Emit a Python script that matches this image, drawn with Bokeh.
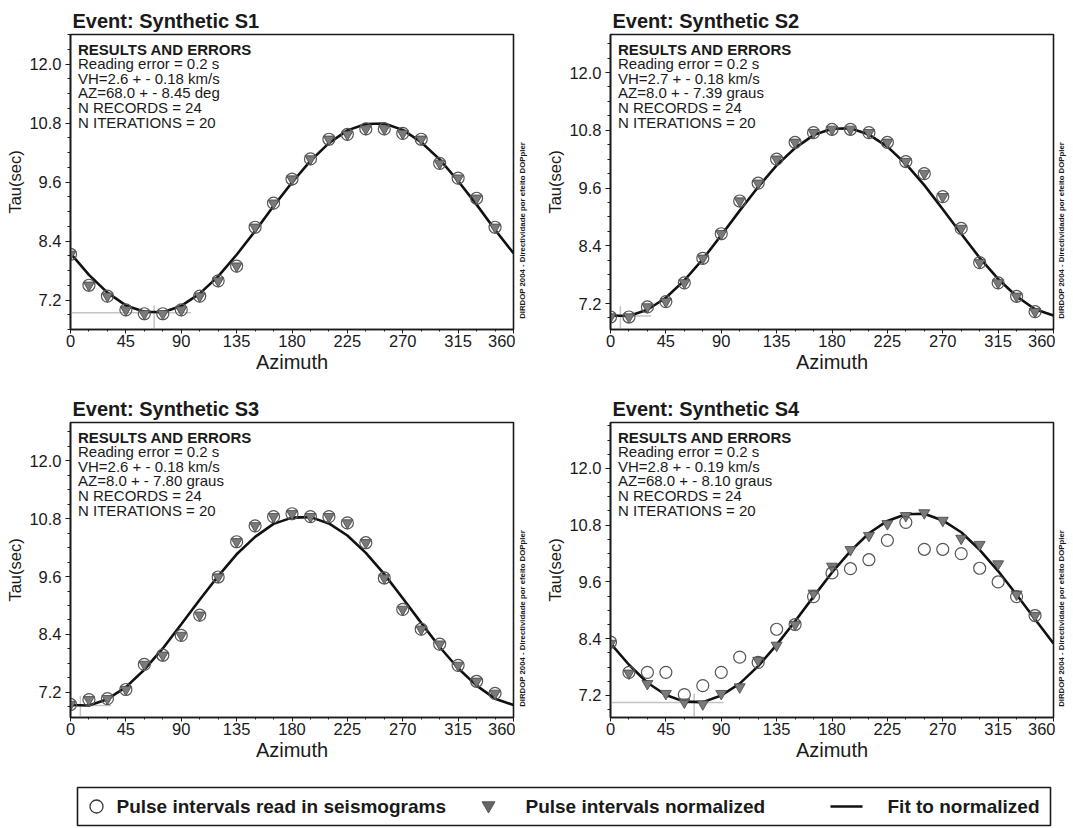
import math
from bokeh.plotting import figure
from bokeh.models import Range1d, FixedTicker, PrintfTickFormatter
from bokeh.layouts import column, row
from bokeh.embed import file_html
from bokeh.resources import INLINE
from bokeh.core.properties import value

FONT = "Liberation Sans"

# ---------------- data ----------------
azimuth = [0, 15, 30, 45, 60, 75, 90, 105, 120, 135, 150, 165,
           180, 195, 210, 225, 240, 255, 270, 285, 300, 315, 330, 345]
fit_azimuth = [0, 15, 30, 45, 60, 75, 90, 105, 120, 135, 150, 165,
               180, 195, 210, 225, 240, 255, 270, 285, 300, 315, 330, 345, 360]

x_ticks = [0, 45, 90, 135, 180, 225, 270, 315, 360]
x_minor = [15, 30, 60, 75, 105, 120, 150, 165, 195, 210, 240, 255, 285, 300, 330, 345]
y_ticks = [7.2, 8.4, 9.6, 10.8, 12.0]
y_minor = [6.6, 6.9, 7.5, 7.8, 8.1, 8.7, 9.0, 9.3, 9.9, 10.2, 10.5, 11.1, 11.4, 11.7, 12.3, 12.6, 12.9]

titles = ["Event: Synthetic S1", "Event: Synthetic S2", "Event: Synthetic S3", "Event: Synthetic S4"]
info_head = "RESULTS AND ERRORS"
reading_error = "Reading error = 0.2 s"
vh_text = ["VH=2.6 + - 0.18 km/s", "VH=2.7 + - 0.18 km/s", "VH=2.6 + - 0.18 km/s", "VH=2.8 + - 0.19 km/s"]
az_text = ["AZ=68.0 + - 8.45 deg", "AZ=8.0 + - 7.39 graus", "AZ=8.0 + - 7.80 graus", "AZ=68.0 + - 8.10 graus"]
records_text = "N RECORDS = 24"
iter_text = "N ITERATIONS = 20"
side_text = "DIRDOP 2004 - Directividade por efeito DOPpler"

# S1 (read and normalized coincide)
s1_read = [8.13, 7.50, 7.28, 7.00, 6.92, 6.92, 7.00, 7.28, 7.59, 7.89, 8.68, 9.17,
           9.66, 10.07, 10.47, 10.57, 10.68, 10.68, 10.59, 10.47, 9.98, 9.68, 9.27, 8.68]
s1_norm = [8.13, 7.50, 7.28, 7.00, 6.92, 6.92, 7.00, 7.28, 7.59, 7.89, 8.68, 9.17,
           9.66, 10.07, 10.47, 10.57, 10.68, 10.68, 10.59, 10.47, 9.98, 9.68, 9.27, 8.68]
s1_fit = [8.15, 7.71, 7.35, 7.09, 6.96, 6.95, 7.08, 7.33, 7.68, 8.12, 8.60, 9.11,
          9.59, 10.03, 10.39, 10.65, 10.78, 10.79, 10.66, 10.41, 10.06, 9.62, 9.14, 8.63, 8.15]

# S2
s2_read = [6.92, 6.92, 7.13, 7.24, 7.63, 8.14, 8.65, 9.33, 9.70, 10.20, 10.55, 10.75,
           10.82, 10.82, 10.75, 10.55, 10.15, 9.90, 9.42, 8.76, 8.05, 7.63, 7.35, 7.03]
s2_norm = [6.92, 6.92, 7.13, 7.24, 7.63, 8.14, 8.65, 9.33, 9.70, 10.20, 10.55, 10.75,
           10.82, 10.82, 10.75, 10.55, 10.15, 9.90, 9.42, 8.76, 8.05, 7.63, 7.35, 7.03]
s2_fit = [6.95, 6.94, 7.07, 7.32, 7.68, 8.12, 8.62, 9.13, 9.62, 10.07, 10.43, 10.70,
          10.83, 10.84, 10.71, 10.46, 10.10, 9.66, 9.16, 8.65, 8.15, 7.71, 7.35, 7.08, 6.95]

# S3
s3_read = [6.95, 7.05, 7.07, 7.26, 7.78, 7.97, 8.38, 8.80, 9.59, 10.32, 10.65, 10.84,
           10.90, 10.84, 10.84, 10.71, 10.30, 9.57, 8.92, 8.51, 8.20, 7.76, 7.43, 7.18]
s3_norm = [6.95, 7.05, 7.07, 7.26, 7.78, 7.97, 8.38, 8.80, 9.59, 10.32, 10.65, 10.84,
           10.90, 10.84, 10.84, 10.71, 10.30, 9.57, 8.92, 8.51, 8.20, 7.76, 7.43, 7.18]
s3_fit = [6.94, 6.93, 7.06, 7.31, 7.67, 8.11, 8.61, 9.12, 9.61, 10.06, 10.42, 10.69,
          10.82, 10.83, 10.70, 10.45, 10.09, 9.65, 9.15, 8.64, 8.14, 7.70, 7.34, 7.07, 6.94]

# S4
s4_read = [8.33, 7.69, 7.69, 7.69, 7.22, 7.41, 7.69, 8.01, 7.90, 8.60, 8.70, 9.29,
           9.79, 9.88, 10.07, 10.48, 10.86, 10.29, 10.29, 10.20, 9.89, 9.60, 9.29, 8.89]
s4_norm = [8.30, 7.67, 7.45, 7.24, 7.06, 7.02, 7.24, 7.38, 7.94, 8.26, 8.70, 9.36,
           9.93, 10.28, 10.58, 10.83, 11.00, 11.06, 10.90, 10.52, 10.39, 9.98, 9.34, 8.89]
s4_fit = [8.30, 7.85, 7.47, 7.21, 7.07, 7.06, 7.20, 7.45, 7.82, 8.27, 8.77, 9.29,
          9.80, 10.25, 10.63, 10.89, 11.03, 11.04, 10.90, 10.65, 10.28, 9.83, 9.33, 8.81, 8.30]

# error cross (azimuth of minimum, minimum tau, end of horizontal bar, top of vertical bar)
err_az = [68, 8, 8, 68]
err_tau = [6.94, 6.94, 6.93, 7.05]
err_h_end = [98, 33, 33, 92]
err_v_top = [7.09, 7.15, 7.13, 7.24]

y_ranges = [(6.60, 12.60), (6.66, 12.79), (6.68, 12.79), (6.735, 12.97)]

legend_labels = ["Pulse intervals read in seismograms", "Pulse intervals normalized", "Fit to normalized"]

series = [(s1_read, s1_norm, s1_fit), (s2_read, s2_norm, s2_fit),
          (s3_read, s3_norm, s3_fit), (s4_read, s4_norm, s4_fit)]

FRAME_W = 443
FRAME_H = 295
FIG_H = 388
TOP = 34
LEFT = 70
RIGHT = 2
INK = "#1a1a1a"


def make_panel(i):
    ymin, ymax = y_ranges[i]
    p = figure(width=LEFT + FRAME_W + RIGHT, height=FIG_H,
               x_range=Range1d(0, 360), y_range=Range1d(ymin, ymax),
               output_backend="svg", toolbar_location=None,
               min_border_left=LEFT, min_border_right=RIGHT,
               min_border_top=TOP, min_border_bottom=FIG_H - TOP - FRAME_H,
               title=titles[i])
    p.background_fill_color = "white"
    p.border_fill_color = "white"
    p.outline_line_color = INK
    p.outline_line_width = 1.6
    p.grid.visible = False

    p.title.text_font = FONT
    p.title.text_font_size = "20px"
    p.title.text_font_style = "bold"
    p.title.text_color = INK
    p.title.align = "left"
    p.title.offset = 2
    p.title.standoff = 6

    p.xaxis.ticker = FixedTicker(ticks=x_ticks, minor_ticks=x_minor)
    p.yaxis.ticker = FixedTicker(ticks=y_ticks, minor_ticks=y_minor)
    p.yaxis.formatter = PrintfTickFormatter(format="%.1f")
    p.xaxis.axis_label = "Azimuth"
    p.yaxis.axis_label = "Tau(sec)"
    for ax in (p.xaxis, p.yaxis):
        ax.axis_line_color = INK
        ax.axis_line_width = 1.6
        ax.major_tick_line_color = INK
        ax.minor_tick_line_color = INK
        ax.major_tick_in = 0
        ax.minor_tick_in = 0
        ax.major_label_text_font = FONT
        ax.major_label_text_font_size = "16.5px"
        ax.major_label_text_color = INK
        ax.axis_label_text_font = FONT
        ax.axis_label_text_font_style = "normal"
        ax.axis_label_text_color = INK
    p.xaxis.major_tick_out = 4
    p.xaxis.minor_tick_out = 2
    p.xaxis.major_label_standoff = 1
    p.xaxis.axis_label_standoff = 1
    p.xaxis.axis_label_text_font_size = "20px"
    p.yaxis.major_tick_out = 5
    p.yaxis.minor_tick_out = 3
    p.yaxis.major_label_standoff = 4
    p.yaxis.axis_label_standoff = 2
    p.yaxis.axis_label_text_font_size = "16.5px"

    read, norm, fit = series[i]

    # error cross
    p.segment(x0=[0], y0=[err_tau[i]], x1=[err_h_end[i]], y1=[err_tau[i]],
              line_color="#c4c4c4", line_width=1.5)
    p.segment(x0=[err_az[i]], y0=[ymin], x1=[err_az[i]], y1=[err_v_top[i]],
              line_color="#c4c4c4", line_width=1.5)

    # fit line
    p.line(fit_azimuth, fit, line_color="#111111", line_width=2.6)

    # normalized points (inverted triangles) and read points (open circles)
    p.scatter(azimuth, norm, marker="inverted_triangle", size=11,
              fill_color="#7a7a7a", line_color="#444444", line_width=0.8)
    p.scatter(azimuth, read, marker="circle", size=12,
              fill_color=None, line_color="#555555", line_width=1.2)

    # info block
    lines = [info_head, reading_error, vh_text[i], az_text[i], records_text, iter_text]
    offs = [14.5, 29.3, 43.8, 58.0, 73.0, 88.0]
    xs = [7.5 / FRAME_W * 360] * len(lines)
    ys = [ymax - o / FRAME_H * (ymax - ymin) for o in offs]
    p.text(x=xs[:1], y=ys[:1], text=lines[:1], text_font=value(FONT), text_font_size="15px",
           text_font_style="bold", text_baseline="middle", text_align="left", text_color=INK)
    p.text(x=xs[1:], y=ys[1:], text=lines[1:], text_font=value(FONT), text_font_size="15px",
           text_font_style="normal", text_baseline="middle", text_align="left", text_color=INK)
    return p


def make_side(width, x_center):
    s = figure(width=width, height=FIG_H, x_range=Range1d(0, width), y_range=Range1d(0, FIG_H),
               output_backend="svg", toolbar_location=None,
               x_axis_location=None, y_axis_location=None, min_border=0)
    s.outline_line_color = None
    s.grid.visible = False
    s.background_fill_color = "white"
    s.border_fill_color = "white"
    s.text(x=[x_center], y=[14], text=[side_text], angle=math.pi / 2,
           text_font=value(FONT), text_font_size="7.8px", text_font_style="bold",
           text_align="left", text_baseline="middle", text_color=INK)
    return s


p1 = make_panel(0)
p2 = make_panel(1)
p3 = make_panel(2)
p4 = make_panel(3)
side_w1 = 540 - (LEFT + FRAME_W + RIGHT)
side_w2 = 1073 - 540 - (LEFT + FRAME_W + RIGHT)
s1 = make_side(side_w1, 521.7 - (LEFT + FRAME_W + RIGHT))
s2 = make_side(side_w2, 1060.5 - 540 - (LEFT + FRAME_W + RIGHT))
s3 = make_side(side_w1, 521.7 - (LEFT + FRAME_W + RIGHT))
s4 = make_side(side_w2, 1060.5 - 540 - (LEFT + FRAME_W + RIGHT))

# legend strip
LW, LH = 1073, 828 - 2 * FIG_H
lg = figure(width=LW, height=LH, x_range=Range1d(0, LW), y_range=Range1d(0, LH),
            output_backend="svg", toolbar_location=None,
            x_axis_location=None, y_axis_location=None, min_border=0)
lg.outline_line_color = None
lg.grid.visible = False
lg.background_fill_color = "white"
lg.border_fill_color = "white"
lg.quad(left=[77], right=[1050], bottom=[3], top=[41], fill_color=None,
        line_color=INK, line_width=1.6)
ty = 22
lg.scatter([96], [ty], marker="circle", size=13, fill_color=None, line_color="#333333", line_width=1.3)
lg.scatter([488], [ty + 1], marker="inverted_triangle", size=13, fill_color="#666666",
           line_color="#444444", line_width=0.8)
lg.segment(x0=[830], y0=[ty], x1=[862], y1=[ty], line_color="#111111", line_width=2.6)
lg.text(x=[116, 525, 887], y=[ty, ty, ty], text=legend_labels, text_font=value(FONT),
        text_font_size="19px", text_font_style="bold", text_baseline="middle",
        text_align="left", text_color=INK)

layout = column(row(p1, s1, p2, s2), row(p3, s3, p4, s4), lg)

with open("out.html", "w") as f:
    f.write(file_html(layout, INLINE))
